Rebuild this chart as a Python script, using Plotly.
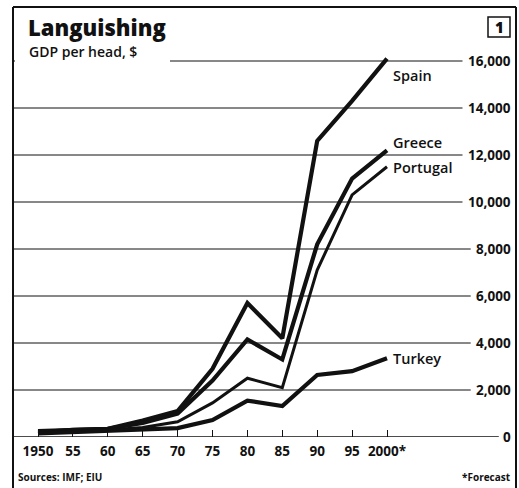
import plotly.graph_objects as go

# ---------------- data ----------------
years = [1950, 1955, 1960, 1965, 1970, 1975, 1980, 1985, 1990, 1995, 2000]
year_labels = ["1950", "55", "60", "65", "70", "75", "80", "85", "90", "95", "2000*"]

spain = [250, 300, 350, 700, 1100, 2900, 5700, 4200, 12600, 14300, 16100]
greece = [200, 300, 350, 600, 1000, 2400, 4150, 3300, 8200, 11000, 12200]
portugal = [150, 250, 300, 400, 650, 1450, 2500, 2100, 7100, 10300, 11500]
turkey = [150, 200, 250, 300, 380, 720, 1550, 1320, 2640, 2800, 3350]

series_names = ["Spain", "Greece", "Portugal", "Turkey"]

y_ticks = [0, 2000, 4000, 6000, 8000, 10000, 12000, 14000, 16000]
y_labels = ["0", "2,000", "4,000", "6,000", "8,000", "10,000", "12,000", "14,000", "16,000"]

title = "Languishing"
subtitle = "GDP per head, $"
source = "Sources: IMF; EIU"
note = "*Forecast"
chart_no = "1"

# ---------------- layout geometry ----------------
W, H = 519, 488
L, R, T, B = 14, 57, 50, 51
PW, PH = W - L - R, H - T - B


def xp(px):
    return (px - L) / PW


def yp(py):
    return (H - B - py) / PH


BLACK = "#111111"
FONT = "Open Sans"

fig = go.Figure()

widths = [4.2, 4.2, 3.0, 4.2]
for name, vals, w in zip(series_names, [spain, greece, portugal, turkey], widths):
    fig.add_trace(go.Scatter(
        x=years, y=vals, mode="lines", name=name,
        line=dict(color=BLACK, width=w, shape="linear"),
        showlegend=False, cliponaxis=False,
    ))

# y-range so that 16,000 sits at ~61px
y_top = 16000 * PH / 376.0
x_left = 1950 - 24 / 6.98
x_right = 2000 + 75 / 6.98

shapes = []
annotations = []

# gridlines with right-aligned labels
char_w = {",": 3.5}
for v, lab in zip(y_ticks, y_labels):
    tw = sum(char_w.get(c, 8.2) for c in lab)
    x_end = 512 - tw - 5
    shapes.append(dict(type="line", xref="paper", yref="y", x0=0, x1=xp(x_end),
                       y0=v, y1=v, line=dict(color=BLACK, width=1.5 if v == 0 else 1),
                       layer="below"))
    annotations.append(dict(xref="paper", yref="y", x=xp(513), y=v, text=lab,
                            showarrow=False, xanchor="right", yanchor="middle",
                            font=dict(family=FONT, size=13.5, color=BLACK, weight=700)))

# white block behind the title covering the top gridline
shapes.append(dict(type="rect", xref="paper", yref="paper", x0=xp(15), x1=xp(170),
                   y0=yp(70), y1=yp(40), fillcolor="white", line=dict(width=0),
                   layer="below"))

# outer frame (left, top, right)
frame = dict(color=BLACK, width=2)
shapes.append(dict(type="line", xref="paper", yref="paper", x0=xp(13), x1=xp(13),
                   y0=yp(7), y1=yp(488), line=frame, layer="above"))
shapes.append(dict(type="line", xref="paper", yref="paper", x0=xp(13), x1=xp(516),
                   y0=yp(7), y1=yp(7), line=frame, layer="above"))
shapes.append(dict(type="line", xref="paper", yref="paper", x0=xp(516), x1=xp(516),
                   y0=yp(7), y1=yp(488), line=frame, layer="above"))

# chart number box
shapes.append(dict(type="rect", xref="paper", yref="paper", x0=xp(488), x1=xp(510),
                   y0=yp(37), y1=yp(17), line=dict(color=BLACK, width=1.5),
                   fillcolor="white", layer="above"))
annotations.append(dict(xref="paper", yref="paper", x=xp(499), y=yp(27), text=chart_no,
                        showarrow=False, xanchor="center", yanchor="middle",
                        font=dict(family=FONT, size=15, color=BLACK, weight=800)))

# title / subtitle
annotations.append(dict(xref="paper", yref="paper", x=xp(26), y=yp(10), text=title,
                        showarrow=False, xanchor="left", yanchor="top",
                        font=dict(family=FONT, size=22, color=BLACK, weight=800)))
annotations.append(dict(xref="paper", yref="paper", x=xp(27), y=yp(40), text=subtitle,
                        showarrow=False, xanchor="left", yanchor="top",
                        font=dict(family=FONT, size=14, color=BLACK, weight=600)))

# series labels at line ends
label_shift = {"Spain": -17, "Greece": 8, "Portugal": -1, "Turkey": 0}
for name, vals in zip(series_names, [spain, greece, portugal, turkey]):
    annotations.append(dict(xref="x", yref="y", x=years[-1], y=vals[-1], text=name,
                            showarrow=False, xanchor="left", yanchor="middle",
                            xshift=4, yshift=label_shift[name],
                            font=dict(family=FONT, size=14.5, color=BLACK, weight=600)))

# footer
annotations.append(dict(xref="paper", yref="paper", x=xp(16), y=yp(477), text=source,
                        showarrow=False, xanchor="left", yanchor="middle",
                        font=dict(family=FONT, size=10, color=BLACK, weight=700)))
annotations.append(dict(xref="paper", yref="paper", x=xp(513), y=yp(477), text=note,
                        showarrow=False, xanchor="right", yanchor="middle",
                        font=dict(family=FONT, size=10, color=BLACK, weight=700)))

fig.update_layout(
    width=W, height=H,
    margin=dict(l=L, r=R, t=T, b=B),
    paper_bgcolor="white", plot_bgcolor="white",
    shapes=shapes, annotations=annotations,
    xaxis=dict(range=[x_left, x_right], tickvals=years, ticktext=year_labels,
               ticks="inside", ticklen=7, tickwidth=1.3, tickcolor=BLACK,
               ticklabelstandoff=4,
               showgrid=False, zeroline=False, showline=False,
               tickfont=dict(family=FONT, size=13.5, color=BLACK, weight=700)),
    yaxis=dict(range=[0, y_top], showgrid=False, zeroline=False, showline=False,
               showticklabels=False, ticks=""),
)

fig.write_html("out.html",
               config={"displayModeBar": False},
               post_script="document.body.style.margin='0';document.body.style.overflow='hidden';")
